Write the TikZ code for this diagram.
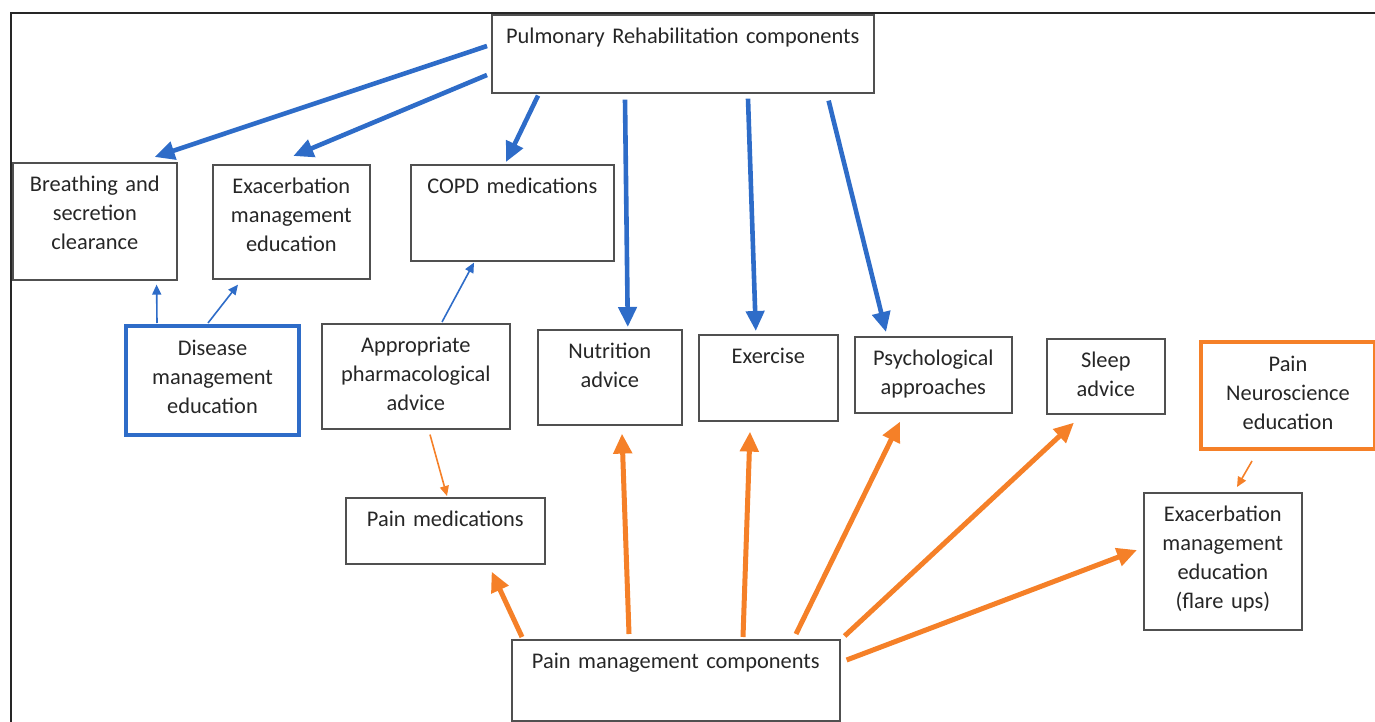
\documentclass[tikz,border=0pt]{standalone}
\usepackage{fontspec}
\setmainfont{Carlito}
\usetikzlibrary{arrows.meta,calc}
\definecolor{prblue}{RGB}{46,108,200}
\definecolor{pmorange}{RGB}{245,128,40}
\definecolor{boxgray}{RGB}{80,80,80}
\begin{document}
\begin{tikzpicture}[x=0.5pt, y=-0.5pt,
		box/.style={draw=boxgray, line width=0.8pt, inner sep=0pt, anchor=north west, align=center, text height=14.5pt, text=black!85, font=\fontsize{11.2}{14.5}\selectfont},
		bluethick/.style={prblue, line width=2.3pt, -{Triangle[length=10pt,width=9pt]}},
		bluethin/.style={prblue, line width=0.8pt, -{Triangle[length=5pt,width=4.5pt]}},
		orangethick/.style={pmorange, line width=2.5pt, -{Triangle[length=10pt,width=9pt]}},
		orangethin/.style={pmorange, line width=0.8pt, -{Triangle[length=5pt,width=4.5pt]}}]
	\useasboundingbox (0,0) rectangle (1375,722);
	\draw[line width=1pt, black!85] (11,722) -- (11,13) -- (1375,13);
	\node[box, text width=191pt, text depth=24.5pt] (pr) at (491,14) {Pulmonary Rehabilitation components};
	\node[box, text width=82pt, text depth=44pt] (breath) at (12,162) {Breathing and\\secretion\\clearance};
	\node[box, text width=78.5pt, text depth=42.5pt] (exac) at (212,164) {Exacerbation\\management\\education};
	\node[box, text width=101.5pt, text depth=33.5pt] (copd) at (410,164) {COPD medications};
	\node[box, draw=prblue, line width=2pt, text width=86.5pt, text depth=40pt] (disease) at (124,324) {Disease\\management\\education};
	\node[box, text width=94pt, text depth=38pt] (pharm) at (321,323) {Appropriate\\pharmacological\\advice};
	\node[box, text width=72pt, text depth=33pt] (nutr) at (537,329) {Nutrition\\advice};
	\node[box, text width=69.5pt, text depth=28.5pt] (exer) at (698,334) {Exercise};
	\node[box, text width=78.5pt, text depth=23.5pt] (psych) at (854,336) {Psychological\\approaches};
	\node[box, text width=59pt, text depth=23pt] (sleep) at (1046,338) {Sleep\\advice};
	\node[box, draw=pmorange, line width=2pt, text width=87pt, text depth=39pt] (neuro) at (1199,340) {Pain\\Neuroscience\\education};
	\node[box, text width=99.5pt, text depth=18.5pt] (painmed) at (345,497) {Pain medications};
	\node[box, text width=79pt, text depth=54pt] (flare) at (1143,492) {Exacerbation\\management\\education\\(flare ups)};
	\node[box, text width=164pt, text depth=26pt] (painmgmt) at (511,639) {Pain management components};
	\draw[bluethick] ($(pr.north west)+(-4,32)$) -- ($(breath.north east)+(-23,-5)$);
	\draw[bluethick] ($(pr.north west)+(-4,61)$) -- ($(exac.north)+(2,-8)$);
	\draw[bluethick] ($(pr.south west)+(47,2)$) -- ($(copd.north west)+(96,-2)$);
	\draw[bluethick] ($(pr.south west)+(134,6)$) -- ($(nutr.north)+(18,-2)$);
	\draw[bluethick] ($(pr.south west)+(257,5)$) -- ($(exer.north)+(-12.5,-3)$);
	\draw[bluethick] ($(pr.south east)+(-46,7)$) -- ($(psych.north west)+(32,-4)$);
	\draw[bluethin] ($(disease.north west)+(33,-1)$) -- ($(breath.south east)+(-21,4)$);
	\draw[bluethin] ($(disease.north west)+(84,-1)$) -- ($(exac.south west)+(26,5)$);
	\draw[bluethin] ($(pharm.north west)+(121,-1)$) -- ($(copd.south west)+(64,1)$);
	\draw[orangethin] ($(pharm.south west)+(109,5)$) -- ($(painmed.north west)+(102,-1)$);
	\draw[orangethin] ($(neuro.south west)+(53,10)$) -- ($(flare.north west)+(94,-5)$);
	\draw[orangethick] ($(painmgmt.north west)+(11,-2)$) -- ($(painmed.south east)+(-54,7)$);
	\draw[orangethick] ($(painmgmt.north west)+(118,-5)$) -- ($(nutr.south west)+(85,8)$);
	\draw[orangethick] ($(painmgmt.north west)+(232,-2)$) -- ($(exer.south west)+(52,10)$);
	\draw[orangethick] ($(painmgmt.north west)+(285,-5)$) -- ($(psych.south west)+(46,8)$);
	\draw[orangethick] ($(painmgmt.north east)+(4,-3)$) -- ($(sleep.south west)+(28,8)$);
	\draw[orangethick] ($(painmgmt.north east)+(6,21)$) -- ($(flare.north west)+(-6,58)$);
\end{tikzpicture}
\end{document}
